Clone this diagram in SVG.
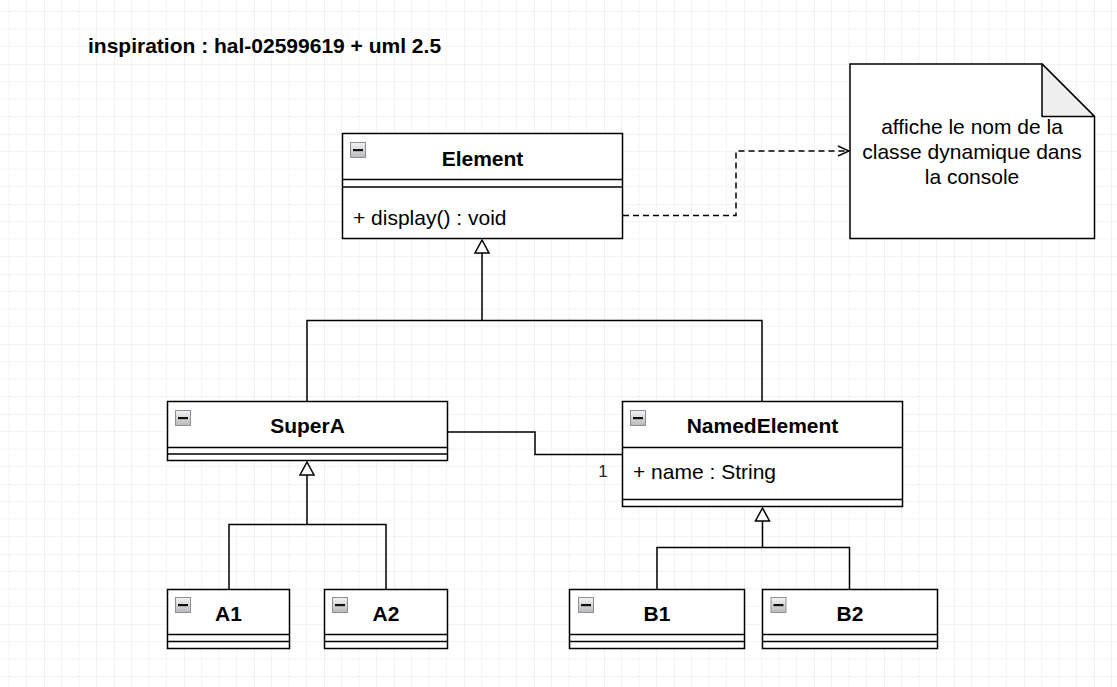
<svg xmlns="http://www.w3.org/2000/svg" width="1117" height="687" viewBox="0 0 1117 687">
<defs>
<pattern id="grid" patternUnits="userSpaceOnUse" x="44" y="64" width="70" height="70">
<path d="M17.5 0V70M35 0V70M52.5 0V70M0 17.5H70M0 35H70M0 52.5H70" stroke="#f3f3f3" stroke-width="1" fill="none"/>
<path d="M0 0V70M0 0H70" stroke="#e5e5e5" stroke-width="1.2" fill="none"/>
</pattern>
<linearGradient id="ig" x1="0" y1="0" x2="0" y2="1">
<stop offset="0" stop-color="#f4f4f4"/>
<stop offset="1" stop-color="#b8b8b8"/>
</linearGradient>
<marker id="open" viewBox="0 0 14 14" refX="13" refY="7" markerWidth="14" markerHeight="14" markerUnits="userSpaceOnUse" orient="auto">
<path d="M2 2L13 7L2 12" fill="none" stroke="#000" stroke-width="1.5"/>
</marker>
<g id="icon">
<rect x="0.5" y="0.5" width="15" height="15" fill="url(#ig)" stroke="#8a8f99" stroke-width="1"/>
<rect x="3" y="7" width="10" height="2.2" fill="#111"/>
</g>
<path id="tri" d="M0 0L7 13H-7Z" fill="#fff" stroke="#000" stroke-width="1.5" stroke-linejoin="miter"/>
</defs>
<style>
.box{fill:#fff;stroke:#000;stroke-width:1.5}
.ln{fill:none;stroke:#000;stroke-width:1.5}
.t{font-family:"Liberation Sans",Arial,sans-serif;font-size:21px;fill:#000}
.b{font-weight:bold;text-anchor:middle}
.c{text-anchor:middle}
</style>
<rect x="0" y="0" width="1117" height="687" fill="#fff"/>
<rect x="0" y="0" width="1117" height="687" fill="url(#grid)"/>

<text class="t" x="88" y="53" font-weight="bold">inspiration : hal-02599619 + uml 2.5</text>

<g id="connectors">
<path class="ln" d="M482 253V320.5M307 402V320.5H762V402"/>
<use href="#tri" x="482" y="240"/>
<path class="ln" d="M307 474V524.5M229 589.5V524.5H386V589.5"/>
<use href="#tri" x="307" y="462"/>
<path class="ln" d="M762.5 520V547.5M657 589.5V547.5H849.5V589.5"/>
<use href="#tri" x="762.5" y="508"/>
<path class="ln" d="M448 432H535V454.5H622"/>
<text x="603" y="477" font-family="Liberation Sans,Arial,sans-serif" font-size="17" fill="#222" text-anchor="middle">1</text>
<path class="ln" d="M623 215.5H736V151H849" stroke-dasharray="6 4" marker-end="url(#open)"/>
</g>

<g id="element">
<rect class="box" x="342.5" y="133.5" width="280" height="105"/>
<path class="ln" d="M342.5 179.5H622.5M342.5 187H622.5"/>
<use href="#icon" x="350" y="142"/>
<text class="t b" x="482.5" y="166">Element</text>
<text class="t" x="353" y="225">+ display() : void</text>
</g>

<g id="note">
<path class="box" d="M850 64H1042L1094.5 116.5V238.5H850Z"/>
<path d="M1042 64V116.5H1094.5Z" fill="#eeeeee" stroke="#000" stroke-width="1.5" stroke-linejoin="round"/>
<text class="t c" x="972" y="134">affiche le nom de la</text>
<text class="t c" x="972" y="159">classe dynamique dans</text>
<text class="t c" x="972" y="184">la console</text>
</g>

<g id="superA">
<rect class="box" x="167.5" y="401.5" width="280" height="59"/>
<path class="ln" d="M167.5 447.5H447.5M167.5 454H447.5"/>
<use href="#icon" x="175" y="410"/>
<text class="t b" x="307.5" y="432.5">SuperA</text>
</g>

<g id="namedElement">
<rect class="box" x="622.5" y="401.5" width="280" height="105"/>
<path class="ln" d="M622.5 447.5H902.5M622.5 499.5H902.5"/>
<use href="#icon" x="630" y="410"/>
<text class="t b" x="762.5" y="432.5">NamedElement</text>
<text class="t" x="633" y="478.5">+ name : String</text>
</g>

<g id="a1">
<rect class="box" x="167.5" y="589.5" width="122" height="59"/>
<path class="ln" d="M167.5 634.5H289.5M167.5 641.5H289.5"/>
<use href="#icon" x="175" y="597"/>
<text class="t b" x="228.5" y="621">A1</text>
</g>

<g id="a2">
<rect class="box" x="324.5" y="589.5" width="123" height="59"/>
<path class="ln" d="M324.5 634.5H447.5M324.5 641.5H447.5"/>
<use href="#icon" x="332" y="597"/>
<text class="t b" x="386" y="621">A2</text>
</g>

<g id="b1">
<rect class="box" x="569.5" y="589.5" width="175" height="59"/>
<path class="ln" d="M569.5 634.5H744.5M569.5 641.5H744.5"/>
<use href="#icon" x="578" y="597"/>
<text class="t b" x="657" y="621">B1</text>
</g>

<g id="b2">
<rect class="box" x="762.5" y="589.5" width="175" height="59"/>
<path class="ln" d="M762.5 634.5H937.5M762.5 641.5H937.5"/>
<use href="#icon" x="770.5" y="597"/>
<text class="t b" x="850" y="621">B2</text>
</g>
</svg>
